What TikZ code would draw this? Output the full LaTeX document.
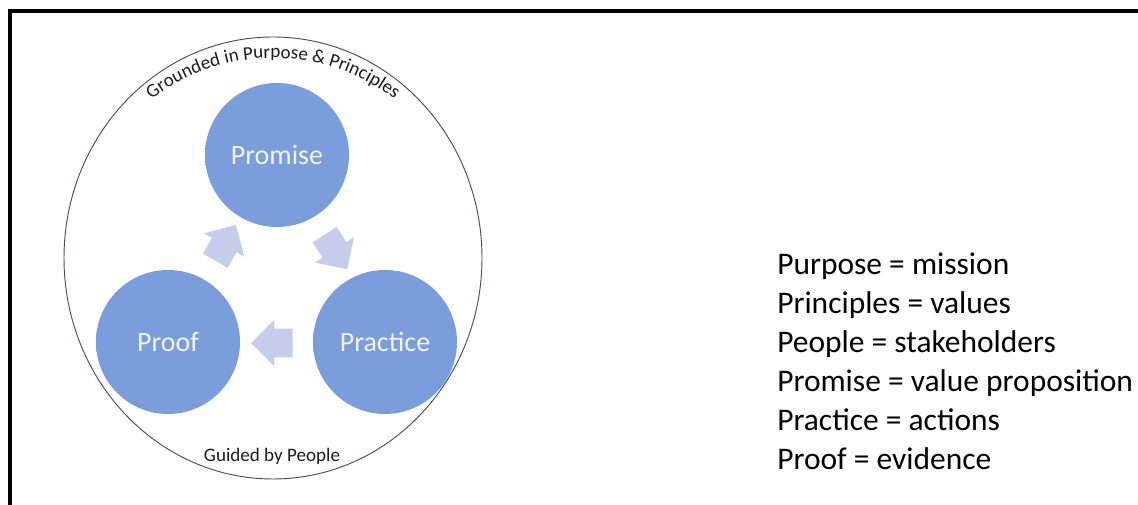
\documentclass[tikz,border=0pt]{standalone}
\usepackage{fontspec}
\setmainfont{Carlito}
\usetikzlibrary{shapes.arrows,decorations.text}

\definecolor{sphereblue}{RGB}{123,157,219}
\definecolor{sphereedge}{RGB}{106,140,207}
\definecolor{arrowblue}{RGB}{197,205,234}
\definecolor{ringline}{RGB}{72,76,104}
\definecolor{ringtext}{RGB}{28,28,28}

\pgfdeclareradialshading{sphereshade}{\pgfpoint{0bp}{0bp}}{color(0bp)=(sphereblue); color(40bp)=(sphereblue); color(50bp)=(sphereedge)}
\newcommand{\ringfont}{\fontsize{14.3}{16}\selectfont}

\begin{document}
\begin{tikzpicture}[
        x=0.75pt, y=0.75pt,
        sphere/.style={circle, minimum size=108pt, inner sep=0pt, shading=sphereshade, text={rgb,255:red,240;green,244;blue,252}, font=\fontsize{21}{24}\selectfont},
        flow/.style={single arrow, fill=arrowblue, minimum height=31pt, inner xsep=0pt, inner ysep=10.5pt, single arrow head extend=6.75pt},
        legend/.style={anchor=base west, inner sep=0pt, font=\fontsize{23.6}{28}\selectfont},
    ]
        \fill[white] (0,0) rectangle (1138,505);
        \useasboundingbox (0,0) rectangle (1138,505);

        % Frame
        \draw[line width=2.4pt] (1138,494) -- (10,494) -- (10,0);

        % Spheres
        \node[sphere] (promise) at (277,350) {Promise};
        \node[sphere] (proof) at (168,163) {Proof};
        \node[sphere] (practice) at (385,163) {Practice};

        % Cycle arrows
        \node[flow, rotate=60] (toPromise) at (222,256) {};
        \node[flow, rotate=-57] (toPractice) at (332,259) {};
        \node[flow, rotate=180] (toProof) at (279,162) {};

        % Ring
        \coordinate (hub) at (273,247);
        \draw[ringline, line width=0.7pt] (hub) ellipse [x radius=209, y radius=221];
        \path[decorate, decoration={text along path, text align=center,
            text={|\ringfont\color{ringtext}|Grounded in Purpose {\&} Principles}}]
            (hub) ++(140:200) arc[start angle=140, end angle=40, radius=200];
        \node[anchor=base, inner sep=0pt, text=ringtext, font=\ringfont] (people) at (272,43) {Guided by People};

        % Definitions
        \foreach \txt [count=\i] in {Purpose = mission, Principles = values, People = stakeholders, Promise = value proposition, Practice = actions, Proof = evidence}
            \node[legend] (def\i) at (777,269-39*\i) {\txt};

    \end{tikzpicture}
\end{document}
